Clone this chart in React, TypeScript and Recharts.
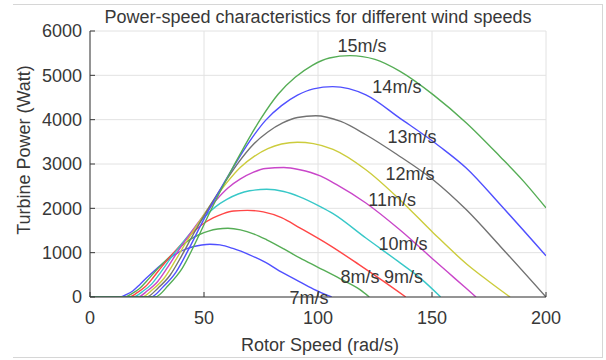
import { LineChart, Line, XAxis, YAxis, CartesianGrid, ReferenceDot } from 'recharts'

// rotor speed (rad/s), turbine power (W), one list per wind speed
const v7: [number, number][] = [
  [0, 0], [13.3, 0], [16.1, 59], [18.9, 142], [21.7, 273], [24.5, 415], [28, 581], [31.5, 735],
  [35, 877], [38.5, 996], [42, 1079], [45.5, 1138], [49, 1174], [52.6, 1190], [57, 1175],
  [63, 1090], [70, 950], [77, 780], [83, 590], [90, 400], [98, 180], [106, 0],
]
const v8: [number, number][] = [
  [0, 0], [15.2, 0], [18.4, 77], [21.6, 186], [24.8, 356], [28, 542], [32, 759], [36, 960],
  [40, 1146], [44, 1301], [48, 1410], [52, 1487], [56, 1533], [60.5, 1550], [66, 1515],
  [72, 1420], [77.5, 1290], [85, 1085], [92, 880], [100, 670], [109.6, 415], [118.4, 165], [122.5, 0],
]
const v9: [number, number][] = [
  [0, 0], [17.1, 0], [20.7, 98], [24.3, 235], [27.9, 451], [31.5, 686], [36, 960], [40.5, 1215],
  [45, 1450], [49.5, 1646], [54, 1784], [58.5, 1882], [63, 1940], [69, 1955], [76, 1920],
  [84, 1790], [92, 1560], [105, 1170], [118, 730], [128, 380], [138.5, 0],
]
const v10: [number, number][] = [
  [0, 0], [19, 0], [23, 121], [27, 290], [31, 557], [35, 847], [40, 1186], [45, 1500],
  [50, 1791], [55, 2033], [60, 2202], [65, 2323], [70, 2396], [77.5, 2430], [85, 2380],
  [92, 2260], [101, 2040], [106.6, 1880], [121, 1330], [136, 770], [145, 420], [153.8, 0],
]
const v11: [number, number][] = [
  [0, 0], [20.9, 0], [25.3, 146], [29.7, 351], [34.1, 673], [38.5, 1025], [44, 1435], [49.5, 1815],
  [55, 2167], [60.5, 2460], [66, 2664], [71.5, 2811], [77, 2899], [85, 2920], [92, 2870],
  [101, 2730], [108, 2540], [121, 2120], [136, 1510], [150.7, 840], [160, 420], [169.3, 0],
]
const v12: [number, number][] = [
  [0, 0], [22.8, 0], [27.6, 174], [32.4, 418], [37.2, 802], [42, 1220], [48, 1708], [54, 2161],
  [60, 2579], [66, 2927], [72, 3171], [78, 3346], [84, 3450], [91, 3490], [98, 3460],
  [106.6, 3330], [121, 2870], [136, 2190], [150.7, 1440], [165.3, 740], [175, 350], [184.2, 0],
]
const v13: [number, number][] = [
  [0, 0], [24.7, 0], [29.9, 205], [35.1, 491], [40.3, 941], [45.5, 1432], [52, 2004], [58.5, 2536],
  [65, 3027], [71.5, 3436], [78, 3722], [84.5, 3926], [91, 4049], [99, 4090], [110, 3960],
  [121, 3660], [134.5, 3220], [150.6, 2640], [165.2, 1960], [180, 1140], [200, 0],
]
const v14: [number, number][] = [
  [0, 0], [26.6, 0], [32.2, 237], [37.8, 569], [43.4, 1091], [49, 1660], [56, 2324], [63, 2941],
  [70, 3510], [77, 3984], [84, 4316], [91, 4553], [98, 4696], [106.4, 4745], [121, 4560],
  [136, 4030], [153.5, 3390], [165, 2910], [180, 2080], [200, 930],
]
const v15: [number, number][] = [
  [0, 0], [28.5, 0], [34.5, 272], [40.5, 653], [46.5, 1252], [52.5, 1906], [60, 2668], [67.5, 3376],
  [75, 4029], [82.5, 4574], [90, 4955], [97.5, 5227], [105, 5390], [114, 5445], [125, 5360],
  [136, 5090], [150.6, 4560], [165.2, 3920], [179.8, 3170], [190, 2620], [200, 2010],
]

const curves = [v7, v8, v9, v10, v11, v12, v13, v14, v15]
const speedNames = ['7m/s', '8m/s', '9m/s', '10m/s', '11m/s', '12m/s', '13m/s', '14m/s', '15m/s']
// where each name is written, in data units
const nameAt: [number, number][] = [
  [96.1, -11], [118.4, 462], [137.5, 451], [137.3, 1207], [132.5, 2188],
  [140.4, 2786], [141.2, 3620], [134.6, 4748], [119.3, 5673],
]

const xTicks = [0, 50, 100, 150, 200]
const yTicks = [0, 1000, 2000, 3000, 4000, 5000, 6000]

// old MATLAB colour order, as it looks after smoothing
const colors = ['#5050ff', '#55ad55', '#ff4646', '#38c8c8', '#c946c9', '#cccc3c', '#727272', '#5050ff', '#55ad55']

const font = "'Liberation Sans', Arial, sans-serif"
const ink = '#383838'
const tickStyle = { fontSize: 18, fill: ink, fontFamily: font }

export default function App() {
  const series = curves.map((c) => c.map(([w, p]) => ({ w, p })))

  return (
    <div style={{ position: 'absolute', left: 0, top: 0, width: 606, height: 360, background: '#fff', fontFamily: font }}>
      <div style={{ position: 'absolute', left: 13, top: 4, width: 589, height: 352, borderTop: '1px solid #d6d6d6', borderRight: '1px solid #d6d6d6', borderBottom: '1px solid #d6d6d6' }} />
      <div style={{ position: 'absolute', left: 0, top: 8, width: 636, textAlign: 'center', fontSize: 18, lineHeight: '18px', color: ink }}>
        Power-speed characteristics for different wind speeds
      </div>
      <div style={{ position: 'absolute', left: 0, top: 336, width: 640, textAlign: 'center', fontSize: 18, lineHeight: '18px', color: ink }}>
        Rotor Speed (rad/s)
      </div>
      <div style={{ position: 'absolute', left: 24 - 100, top: 150 - 9, width: 200, textAlign: 'center', fontSize: 18, lineHeight: '18px', color: ink, transform: 'rotate(-90deg)' }}>
        Turbine Power (Watt)
      </div>
      <LineChart width={606} height={360} margin={{ top: 31, right: 60, left: 0, bottom: 0 }} style={{ position: 'absolute', left: 0, top: 0 }}>
        <CartesianGrid stroke="#e2e2e2" />
        <XAxis
          dataKey="w"
          type="number"
          domain={[0, 200]}
          ticks={xTicks}
          allowDataOverflow
          height={63}
          tick={tickStyle}
          tickSize={-5}
          tickMargin={19}
          stroke={ink}
        />
        <XAxis
          xAxisId="top"
          orientation="top"
          type="number"
          domain={[0, 200]}
          ticks={xTicks}
          allowDataOverflow
          height={0}
          tick={() => <g />}
          tickSize={-5}
          stroke={ink}
        />
        <YAxis
          type="number"
          domain={[0, 6000]}
          ticks={yTicks}
          allowDataOverflow
          width={90}
          tick={tickStyle}
          tickSize={-5}
          tickMargin={13}
          stroke={ink}
        />
        <YAxis
          yAxisId="right"
          orientation="right"
          type="number"
          domain={[0, 6000]}
          ticks={yTicks}
          allowDataOverflow
          width={0}
          tick={() => <g />}
          tickSize={-5}
          stroke={ink}
        />
        {series.map((d, i) => (
          <Line
            key={speedNames[i]}
            data={d}
            dataKey="p"
            type="monotone"
            stroke={colors[i]}
            strokeWidth={1.4}
            dot={false}
            activeDot={false}
            isAnimationActive={false}
          />
        ))}
        {nameAt.map(([w, p], i) => (
          <ReferenceDot
            key={'n' + i}
            x={w}
            y={p}
            r={0}
            ifOverflow="visible"
            stroke="none"
            fill="none"
            label={{ value: speedNames[i], position: 'center', fontSize: 18, fill: ink, fontFamily: font }}
          />
        ))}
      </LineChart>
    </div>
  )
}
